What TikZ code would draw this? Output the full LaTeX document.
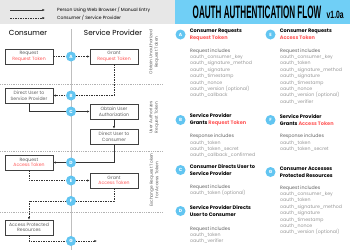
\documentclass[tikz,border=0pt]{standalone}
\usepackage{fontspec}
\setmainfont{Poppins}
\newfontfamily\titlefont{Liberation Sans}
\usepackage{tikz}
\usetikzlibrary{positioning, arrows.meta, shadows}

\definecolor{skyblue}{RGB}{98,197,241}
\definecolor{bandblue}{RGB}{112,207,246}
\definecolor{tokenred}{RGB}{255,88,88}
\definecolor{bandgray}{RGB}{231,231,231}
\definecolor{textgray}{RGB}{95,95,95}
\definecolor{paramgray}{RGB}{150,150,150}

\newcommand{\tok}[1]{\textcolor{tokenred}{#1}}
\newcommand{\incl}[1]{\textcolor{textgray}{#1}}

\begin{document}
\begin{tikzpicture}[
        x=1pt, y=-1pt,
        box/.style={draw=black!75, line width=0.5pt, fill=white, minimum width=48pt, minimum height=15pt, inner sep=1pt, align=center, text=textgray, font=\fontsize{4.6}{5.6}\selectfont, drop shadow={shadow xshift=0.7pt, shadow yshift=-0.7pt, opacity=0.35}},
        badge/.style={circle, fill=skyblue, text=white, minimum size=10pt, inner sep=0pt, font=\bfseries\fontsize{4.5}{5}\selectfont},
        head/.style={align=left, inner sep=0pt, anchor=west, font=\bfseries\fontsize{5}{7}\selectfont},
        params/.style={align=left, inner sep=0pt, anchor=north west, text=paramgray, font=\fontsize{4.7}{6.35}\selectfont},
        phase/.style={rotate=90, align=center, text=textgray, font=\fontsize{4.3}{5.5}\selectfont},
        legend/.style={anchor=west, inner sep=0pt, font=\fontsize{4.5}{5}\selectfont},
        arr/.style={-{Latex[length=2.6pt, width=2.2pt]}, line width=0.5pt, draw=black!80},
        dasharr/.style={arr, dash pattern=on 1.5pt off 1pt}
    ]
    \useasboundingbox (0,0) rectangle (350,250);

    % top bands
    \fill[bandgray] (0,0) rectangle (175,24);
    \fill[bandblue] (175,0) rectangle (350,24);

    % legend
    \node[legend] (legSolid) at (57,10) {Person Using Web Browser / Manual Entry};
    \node[legend] (legDash) at (57,18) {Consumer / Service Provider};
    \draw[arr] ([xshift=-47pt]legSolid.west) -- ([xshift=-12pt]legSolid.west);
    \draw[dasharr] ([xshift=-47pt]legDash.west) -- ([xshift=-12pt]legDash.west);

    % title
    \node[inner sep=0pt, font=\titlefont\bfseries\fontsize{18}{18}\selectfont] (title) at (257,12.5) {\scalebox{0.45}[1]{OAUTH AUTHENTICATION FLOW}};
    \node[inner sep=0pt, anchor=base west, font=\titlefont\bfseries\fontsize{10.5}{11}\selectfont] (version) at ([xshift=5pt]title.base east) {\scalebox{0.65}[1]{v1.0a}};

    % columns
    \node[font=\fontsize{7.3}{8}\selectfont] (hdCons) at (28,33) {Consumer};
    \node[font=\fontsize{7.3}{8}\selectfont] (hdProv) at (113,33) {Service Provider};
    \draw[black!25, line width=0.4pt] (71,29) -- (71,250);
    \foreach \y in {84,151,212}
        \draw[black!30, line width=0.4pt, dash pattern=on 0.6pt off 1.2pt] (0,\y) -- (163,\y);

    % phases
    \node[phase] (ph1) at (154,52) {Obtain Unauthorized\\Request Token};
    \node[phase] (ph2) at (154,117.5) {User Authorizes\\Request Token};
    \node[phase] (ph3) at (154,180) {Exchange Request Token\\for Access Token};

    % flow boxes
    \node[box] (reqRT) at (29,56.5) {Request\\\tok{Request Token}};
    \node[box] (grantRT) at (114,56.5) {Grant\\\tok{Request Token}};
    \node[box] (dirSP) at (29,95.5) {Direct User to\\Service Provider};
    \node[box] (obtain) at (114,111.5) {Obtain User\\Authorization};
    \node[box] (dirCons) at (114,136.5) {Direct User to\\Consumer};
    \node[box] (reqAT) at (29,162.5) {Request\\\tok{Access Token}};
    \node[box] (grantAT) at (114,180.5) {Grant\\\tok{Access Token}};
    \node[box] (access) at (29,227.5) {Access Protected\\Resources};

    \coordinate (cA) at (71,56.5);
    \coordinate (cB) at (71,95.5);
    \coordinate (cC) at (71,111.5);
    \coordinate (cD) at (71,162.5);
    \coordinate (cE) at (71,180.5);
    \coordinate (cF) at (71,201);
    \coordinate (cG) at (71,241);
    \coordinate (gEnd) at (97,241);

    \draw[dasharr] (reqRT) -- (grantRT);
    \draw[dasharr] (grantRT.south) |- (dirSP.east);
    \draw[arr] (dirSP.south) |- (obtain.west);
    \draw[arr] (obtain) -- (dirCons);
    \draw[arr] (dirCons.south) |- (reqAT.east);
    \draw[dasharr] (reqAT.south) |- (grantAT.west);
    \draw[dasharr] (grantAT.south) |- (cF) -| (access.north);
    \draw[dasharr] (access.south) |- (gEnd);

    \foreach \s in {A,...,G}
        \node[badge] (s\s) at (c\s) {\s};

    % steps, first column
    \node[badge] (kA) at (180.5,34.5) {A};
    \node[head, right=4pt of kA] (hA) {Consumer Requests\\\tok{Request Token}};
    \node[params] (pA) at (190,48.5) {\incl{Request includes}\\oauth\_consumer\_key\\oauth\_signature\_method\\oauth\_signature\\oauth\_timestamp\\oauth\_nonce\\oauth\_version (optional)\\oauth\_callback};

    \node[badge] (kB) at (180.5,120) {B};
    \node[head, right=4pt of kB] (hB) {Service Provider\\Grants \tok{Request Token}};
    \node[params] (pB) at (190,134) {\incl{Response includes}\\oauth\_token\\oauth\_token\_secret\\oauth\_callback\_confirmed};

    \node[badge] (kC) at (180.5,170) {C};
    \node[head, right=4pt of kC] (hC) {Consumer Directs User to\\Service Provider};
    \node[params] (pC) at (190,184.5) {\incl{Request includes}\\oauth\_token (optional)};

    \node[badge] (kD) at (180.5,211) {D};
    \node[head, right=4pt of kD] (hD) {Service Provider Directs\\User to Consumer};
    \node[params] (pD) at (190,226.5) {\incl{Request includes}\\oauth\_token\\oauth\_verifier};

    % steps, second column
    \node[badge] (kE) at (270.5,34.5) {E};
    \node[head, right=4pt of kE] (hE) {Consumer Requests\\\tok{Access Token}};
    \node[params] (pE) at (280,48.5) {\incl{Request includes}\\oauth\_consumer\_key\\oauth\_token\\oauth\_signature\_method\\oauth\_signature\\oauth\_timestamp\\oauth\_nonce\\oauth\_version (optional)\\oauth\_verifier};

    \node[badge] (kF) at (270.5,120) {F};
    \node[head, right=4pt of kF] (hF) {Service Provider\\Grants \tok{Access Token}};
    \node[params] (pF) at (280,134) {\incl{Response includes}\\oauth\_token\\oauth\_token\_secret};

    \node[badge] (kG) at (270.5,172) {G};
    \node[head, right=4pt of kG] (hG) {Consumer Accesses\\Protected Resources};
    \node[params] (pG) at (280,185.5) {\incl{Request includes}\\oauth\_consumer\_key\\oauth\_token\\oauth\_signature\_method\\oauth\_signature\\oauth\_timestamp\\oauth\_nonce\\oauth\_version (optional)};
\end{tikzpicture}
\end{document}
